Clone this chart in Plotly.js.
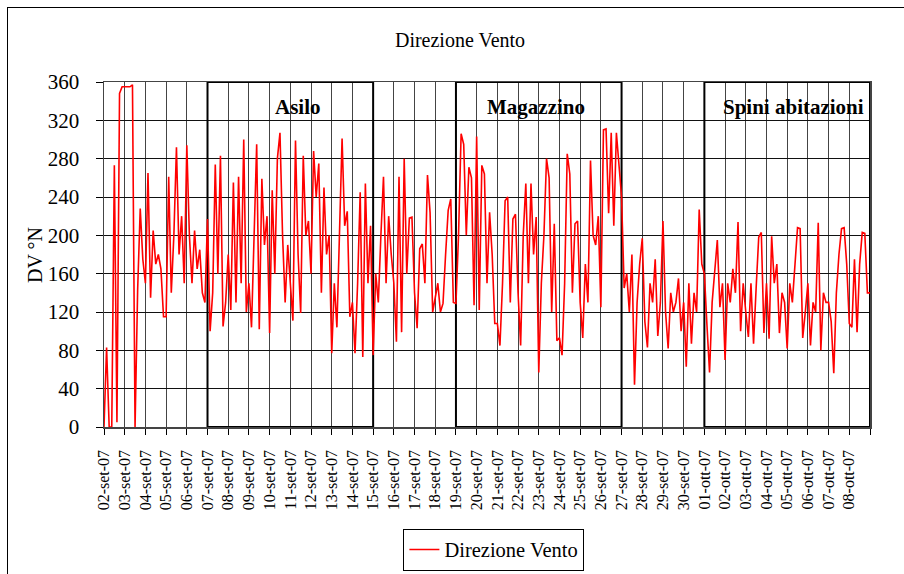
<!DOCTYPE html>
<html>
<head>
<meta charset="utf-8">
<script src="https://cdn.plot.ly/plotly-3.0.1.min.js"></script>
<style>
html,body{margin:0;padding:0;background:#fff;overflow:hidden;}
#chart{width:904px;height:574px;position:absolute;left:0;top:0;}
#frame{position:absolute;left:7px;top:7px;width:1000px;height:700px;border-left:1.5px solid #000;border-top:1.5px solid #000;pointer-events:none;}
</style>
</head>
<body>
<div id="chart"></div>
<div id="frame"></div>
<script>
// ---- data ----
const titolo = 'Direzione Vento';
const nomeSerie = 'Direzione Vento';
const inizio = '2007-09-02 00:00';
const passoOre = 3;
// wind direction (°N), 3-hourly, from 02-set-07 00:00 to 09-ott-07 00:00
const direzioneVento = [
  0, 83, 0, 0, 273, 5, 348, 355,          // 02-set
  355, 355, 355, 357, 0, 143, 228, 175,   // 03-set
  150, 265, 135, 205, 170, 180, 165, 115, // 04-set
  115, 261, 140, 200, 292, 180, 220, 150, // 05-set
  294, 200, 150, 205, 165, 185, 140, 130, // 06-set
  217, 100, 140, 274, 160, 283, 105, 130, // 07-set
  180, 122, 255, 130, 261, 150, 300, 120, // 08-set
  150, 104, 200, 295, 102, 259, 190, 220, // 09-set
  98, 247, 160, 280, 307, 200, 130, 190,  // 10-set
  150, 111, 299, 180, 119, 283, 200, 215, // 11-set
  160, 288, 240, 275, 140, 250, 180, 200, // 12-set
  77, 150, 104, 200, 301, 210, 225, 115,  // 13-set
  130, 77, 150, 245, 73, 254, 150, 210,   // 14-set
  75, 160, 130, 200, 261, 150, 220, 180,  // 15-set
  150, 89, 261, 99, 280, 160, 218, 219,   // 16-set
  140, 103, 186, 191, 150, 263, 224, 120, // 17-set
  135, 150, 120, 129, 180, 226, 238, 130, // 18-set
  129, 200, 306, 295, 200, 271, 260, 127, // 19-set
  303, 122, 273, 264, 150, 224, 180, 108, // 20-set
  108, 85, 150, 236, 240, 130, 217, 222,  // 21-set
  140, 85, 200, 254, 150, 254, 180, 219,  // 22-set
  57, 150, 200, 280, 260, 120, 212, 90,   // 23-set
  93, 75, 150, 285, 264, 140, 212, 215,   // 24-set
  130, 93, 170, 130, 278, 200, 190, 220,  // 25-set
  125, 310, 311, 223, 307, 210, 307, 275, // 26-set
  240, 145, 160, 120, 180, 44, 130, 170,  // 27-set
  197, 110, 83, 150, 130, 175, 95, 130,   // 28-set
  215, 120, 82, 140, 120, 130, 155, 100,  // 29-set
  130, 63, 150, 87, 140, 120, 227, 170,   // 30-set
  160, 106, 57, 130, 163, 195, 125, 150,  // 01-ott
  70, 150, 130, 165, 140, 214, 100, 150,  // 02-ott
  120, 94, 150, 87, 145, 198, 203, 98,    // 03-ott
  150, 92, 199, 150, 170, 98, 140, 130,   // 04-ott
  82, 150, 130, 165, 208, 207, 93, 120,   // 05-ott
  150, 85, 130, 120, 213, 80, 140, 130,   // 06-ott
  130, 110, 56, 140, 180, 207, 208, 170,  // 07-ott
  108, 104, 175, 99, 170, 203, 202, 140,  // 08-ott
  140
];
const giorni = ['2007-09-02','2007-09-03','2007-09-04','2007-09-05','2007-09-06','2007-09-07','2007-09-08','2007-09-09','2007-09-10','2007-09-11','2007-09-12','2007-09-13','2007-09-14','2007-09-15','2007-09-16','2007-09-17','2007-09-18','2007-09-19','2007-09-20','2007-09-21','2007-09-22','2007-09-23','2007-09-24','2007-09-25','2007-09-26','2007-09-27','2007-09-28','2007-09-29','2007-09-30','2007-10-01','2007-10-02','2007-10-03','2007-10-04','2007-10-05','2007-10-06','2007-10-07','2007-10-08','2007-10-09'];
const etichette = ['02-set-07','03-set-07','04-set-07','05-set-07','06-set-07','07-set-07','08-set-07','09-set-07','10-set-07','11-set-07','12-set-07','13-set-07','14-set-07','15-set-07','16-set-07','17-set-07','18-set-07','19-set-07','20-set-07','21-set-07','22-set-07','23-set-07','24-set-07','25-set-07','26-set-07','27-set-07','28-set-07','29-set-07','30-set-07','01-ott-07','02-ott-07','03-ott-07','04-ott-07','05-ott-07','06-ott-07','07-ott-07','08-ott-07',''];
const yTicks = [0,40,80,120,160,200,240,280,320,360];
const zone = ['Asilo','Magazzino','Spini abitazioni'];
const zonaInizio = ['2007-09-07','2007-09-19','2007-10-01'];
const zonaFine = ['2007-09-15','2007-09-27','2007-10-09'];
// ---- end data ----

const serif = '"Liberation Serif", "Times New Roman", serif';
const labelPos = ['2007-09-11 09:00','2007-09-22 21:00','2007-10-05 07:30'];

const trace = {
  type: 'scatter', mode: 'lines', name: nomeSerie,
  x0: inizio, dx: passoOre * 3600000,
  y: direzioneVento,
  line: {color: '#ff0000', width: 1.6},
  showlegend: true
};

const shapes = zone.map((z, i) => ({
  type: 'rect', xref: 'x', yref: 'y', layer: 'between',
  x0: zonaInizio[i], x1: zonaFine[i], y0: 0, y1: 360,
  line: {color: '#000', width: 2}, fillcolor: 'rgba(0,0,0,0)'
}));

const annotations = zone.map((z, i) => ({
  xref: 'x', yref: 'y', x: labelPos[i], y: 334,
  text: '<b>' + z + '</b>', showarrow: false,
  font: {family: serif, size: 21, color: '#000'},
  xanchor: 'center', yanchor: 'middle'
}));
annotations.push({
  xref: 'paper', yref: 'paper', x: -0.09, y: 0.4986,
  text: 'DV °N', textangle: -90, showarrow: false,
  font: {family: serif, size: 20, color: '#000'},
  xanchor: 'center', yanchor: 'middle'
});

const layout = {
  width: 904, height: 574,
  margin: {l: 104, r: 34, t: 82, b: 147, autoexpand: false},
  paper_bgcolor: '#fff', plot_bgcolor: '#fff',
  title: {text: titolo, font: {family: serif, size: 20, color: '#000'},
          xref: 'paper', x: 0.4648, xanchor: 'center', yref: 'container', y: 0.930, yanchor: 'middle'},
  xaxis: {
    type: 'date', range: ['2007-09-02', '2007-10-09'],
    tickmode: 'array', tickvals: giorni, ticktext: etichette,
    tickangle: -90, ticks: 'outside', ticklen: 6, tickcolor: '#000',
    ticklabelstandoff: 9,
    tickfont: {family: serif, size: 16, color: '#000'},
    showgrid: true, gridcolor: '#444', gridwidth: 1,
    showline: true, linecolor: '#444', linewidth: 1.5, mirror: true,
    zeroline: false, fixedrange: true, automargin: false
  },
  yaxis: {
    range: [0, 360], tickmode: 'array', tickvals: yTicks,
    ticks: 'outside', ticklen: 7, tickcolor: '#000',
    ticklabelstandoff: 12,
    tickfont: {family: serif, size: 21, color: '#000'},
    showgrid: true, gridcolor: '#111', gridwidth: 1,
    showline: true, linecolor: '#444', linewidth: 1.5, mirror: true,
    zeroline: false, fixedrange: true, automargin: false
  },
  legend: {
    x: 0.509, xanchor: 'center', yref: 'container', y: 0.079, yanchor: 'top',
    bordercolor: '#000', borderwidth: 1, bgcolor: '#fff',
    font: {family: serif, size: 20.5, color: '#000'}
  },
  shapes: shapes,
  annotations: annotations
};

Plotly.newPlot('chart', [trace], layout, {staticPlot: true, displayModeBar: false});
</script>
</body>
</html>
